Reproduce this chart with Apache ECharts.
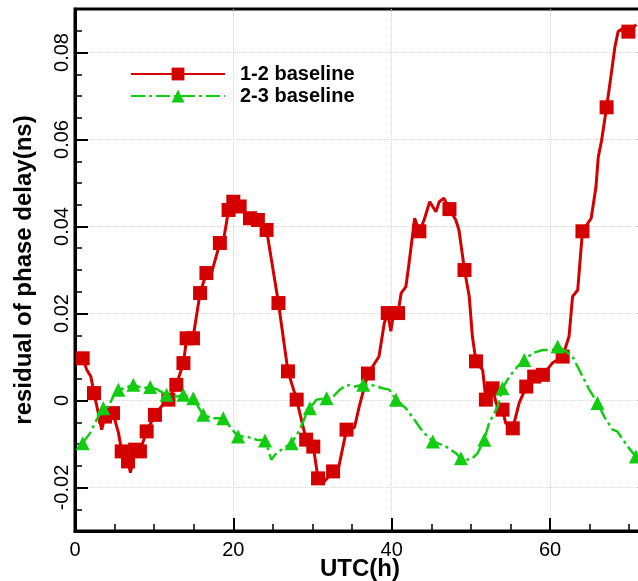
<!DOCTYPE html>
<html>
<head>
<meta charset="utf-8">
<script src="https://cdn.jsdelivr.net/npm/echarts@6/dist/echarts.min.js"></script>
<style>html,body{margin:0;padding:0;background:#fff;}#chart{width:638px;height:581px;}</style>
</head>
<body>
<div id="chart"></div>
<script>
// ---- data ----
const seriesNames = ['1-2 baseline', '2-3 baseline'];
const xTickValues = [0, 20, 40, 60];
const yTickValues = [-0.02, 0, 0.02, 0.04, 0.06, 0.08];
const yTickLabels = ['-0.02', '0', '0.02', '0.04', '0.06', '0.08'];

const red_x = [0.97,1.5,2.0,2.4,2.95,3.37,3.8,4.8,5.5,5.9,6.7,7.0,7.6,8.2,9.05,10.1,10.9,11.8,12.8,13.7,14.1,14.9,15.8,16.6,17.3,18.3,18.7,19.4,20.0,20.8,22.1,23.1,24.2,25.7,26.9,28.0,28.4,29.2,30.1,30.7,31.3,32.6,33.2,34.3,35.3,35.9,37.0,37.6,38.4,39.07,39.5,39.9,40.3,40.8,41.2,41.8,42.2,42.9,43.5,44.1,44.8,45.6,46.0,46.6,47.3,48.1,48.5,49.2,49.8,50.2,50.65,51.5,51.9,52.75,53.2,54.0,54.4,55.3,56.1,57.0,58.0,59.1,60.3,61.6,62.4,62.85,63.5,64.1,65.2,65.8,66.1,66.5,67.15,67.8,68.2,68.6,69.3,69.9,70.9];
const red_y = [0.0097,0.0070,0.0055,0.0017,-0.0029,-0.0067,-0.0037,-0.0029,-0.0075,-0.0117,-0.0140,-0.0166,-0.0113,-0.0117,-0.0071,-0.0033,-0.0014,0.0002,0.0036,0.0086,0.0143,0.0143,0.0247,0.0293,0.0297,0.0362,0.0362,0.0438,0.0457,0.0446,0.0419,0.0415,0.0392,0.0224,0.0067,0.0002,-0.0029,-0.0090,-0.0106,-0.0179,-0.0190,-0.0163,-0.0163,-0.0067,-0.0062,-0.0014,0.0062,0.0078,0.0101,0.0178,0.0201,0.0159,0.0208,0.0201,0.0247,0.0262,0.0316,0.0419,0.0389,0.0415,0.0457,0.0434,0.0457,0.0465,0.0440,0.0415,0.0392,0.0300,0.0239,0.0147,0.0090,0.0070,0.0002,0.0028,-0.0006,-0.0021,-0.0052,-0.0064,-0.0006,0.0032,0.0055,0.0059,0.0086,0.0101,0.0147,0.0239,0.0254,0.0389,0.0419,0.0490,0.0560,0.0596,0.0674,0.0759,0.0813,0.0848,0.0856,0.0848,0.0864];
const red_mark = [1,0,0,1,0,0,1,1,0,1,1,0,1,1,1,1,0,1,1,1,1,1,1,1,0,1,0,1,1,1,1,1,1,1,1,1,0,1,1,1,0,1,0,1,0,0,1,0,0,0,1,0,0,1,0,0,0,0,1,0,0,0,0,0,1,0,0,1,0,0,1,0,1,1,0,1,0,1,0,1,1,1,0,1,0,0,0,1,0,0,0,0,1,0,0,0,0,1,0];

const green_x = [0.97,1.9,2.74,3.58,4.2,4.84,5.47,6.3,7.37,8.0,8.6,9.5,10.3,11.57,12.84,13.68,14.94,15.78,16.2,17.47,18.73,19.57,20.6,21.7,22.9,24.0,24.4,24.8,25.25,26.3,27.36,28.4,29.25,29.67,30.5,31.78,32.6,33.46,34.3,35.35,36.4,37.4,38.86,39.7,40.55,41.8,42.86,43.9,45.2,46.86,48.1,48.75,49.6,50.2,50.86,51.7,52.3,53.4,54.0,54.86,55.9,56.75,57.8,59.07,60.3,60.96,62.0,62.85,63.7,64.96,66.0,66.85,67.9,68.5,69.2,70.0,70.85,71.5];
const green_y = [-0.0098,-0.0075,-0.0044,-0.0018,-0.0014,0.0009,0.0025,0.0028,0.0036,0.0032,0.0028,0.0031,0.0026,0.0013,0.0009,0.0013,0.0005,-0.0021,-0.0033,-0.0041,-0.0041,-0.0060,-0.0083,-0.0083,-0.0090,-0.0092,-0.0113,-0.0136,-0.0125,-0.0110,-0.0098,-0.0067,-0.0029,-0.0018,0.0002,0.0005,0.0009,0.0025,0.0036,0.0032,0.0036,0.0036,0.0028,0.0025,0.0002,-0.0018,-0.0044,-0.0071,-0.0094,-0.0106,-0.0121,-0.0133,-0.0136,-0.0133,-0.0121,-0.0090,-0.0052,-0.0014,0.0028,0.0055,0.0078,0.0093,0.0109,0.0116,0.0116,0.0124,0.0113,0.0101,0.0070,0.0025,-0.0006,-0.0037,-0.0067,-0.0071,-0.0090,-0.0110,-0.0129,-0.0135];
const green_mark = [1,0,0,1,0,0,1,0,1,0,0,1,0,1,0,1,1,0,1,0,1,0,1,0,0,1,0,0,0,0,1,0,0,1,0,1,0,0,0,0,1,0,0,0,1,0,0,0,1,0,0,1,0,0,0,1,0,0,1,0,0,1,0,0,0,1,0,0,0,0,1,0,0,0,0,0,1,0];

function build(xs, ys, marks) {
  return xs.map((x, i) => marks[i] ? { value: [x, ys[i]] } : { value: [x, ys[i]], symbol: 'none' });
}

const FONT = "'Liberation Sans', Arial, Helvetica, sans-serif";
const chart = echarts.init(document.getElementById('chart'), null, { renderer: 'canvas' });
chart.setOption({
  animation: false,
  backgroundColor: '#fff',
  grid: { left: 75, top: 9, right: -7, bottom: 50, show: true, borderColor: '#000', borderWidth: 3,
          containLabel: false, outerBoundsMode: 'none' },
  legend: {
    orient: 'vertical', left: 125, top: 59, itemWidth: 94, itemHeight: 16, itemGap: 2,
    data: seriesNames,
    textStyle: { fontFamily: FONT, fontSize: 20, fontWeight: 'bold', color: '#000', padding: [0, 0, 0, 10] }
  },
  xAxis: {
    type: 'value', min: 0, max: 72, interval: 20,
    name: 'UTC(h)', nameLocation: 'middle', nameGap: 26, nameMoveOverlap: false,
    nameTextStyle: { fontFamily: FONT, fontSize: 24, fontWeight: 'bold', color: '#000' },
    axisLine: { show: true, onZero: false, lineStyle: { color: '#000', width: 3 } },
    axisTick: { show: true, inside: true, length: 13, lineStyle: { color: '#000', width: 2 } },
    minorTick: { show: true, splitNumber: 4, length: 7, lineStyle: { color: '#000', width: 1.5 } },
    axisLabel: {
      fontFamily: FONT, fontSize: 20, color: '#000', margin: 9, showMaxLabel: false,
      formatter: v => xTickValues.indexOf(v) >= 0 ? String(v) : ''
    },
    splitLine: { show: true, lineStyle: { color: '#d8d8d8', type: 'dotted', width: 1 } }
  },
  yAxis: [
    {
      type: 'value', min: -0.03, max: 0.09, interval: 0.005,
      name: 'residual of phase delay(ns)', nameLocation: 'middle', nameGap: 39, nameMoveOverlap: false,
      nameTextStyle: { fontFamily: FONT, fontSize: 24, fontWeight: 'bold', color: '#000' },
      axisLine: { show: true, onZero: false, lineStyle: { color: '#000', width: 3 } },
      axisTick: { show: true, inside: true, length: 13, customValues: yTickValues, lineStyle: { color: '#000', width: 2 } },
      axisLabel: {
        fontFamily: FONT, fontSize: 20, color: '#000', rotate: 90, margin: 3,
        customValues: yTickValues,
        formatter: v => yTickLabels[yTickValues.findIndex(t => Math.abs(t - v) < 1e-9)] || ''
      },
      splitLine: { show: true, customValues: yTickValues, lineStyle: { color: '#d8d8d8', type: 'dotted', width: 1 } }
    },
    {
      type: 'value', min: -0.03, max: 0.09, interval: 0.005, position: 'left', offset: 0,
      axisLine: { show: false },
      axisTick: { show: true, inside: true, length: 7, lineStyle: { color: '#000', width: 1.5 } },
      axisLabel: { show: false },
      splitLine: { show: false }
    }
  ],
  series: [
    {
      name: seriesNames[0], type: 'line', data: build(red_x, red_y, red_mark),
      symbol: 'rect', symbolSize: 14, showSymbol: true, showAllSymbol: true,
      lineStyle: { color: '#d40000', width: 3 }, itemStyle: { color: '#d40000' }, z: 3
    },
    {
      name: seriesNames[1], type: 'line', data: build(green_x, green_y, green_mark),
      symbol: 'triangle', symbolSize: 14, showSymbol: true, showAllSymbol: true,
      lineStyle: { color: '#11cc11', width: 2.5, type: [14, 4, 3, 4] }, itemStyle: { color: '#11cc11' }, z: 4
    }
  ]
});
</script>
</body>
</html>
